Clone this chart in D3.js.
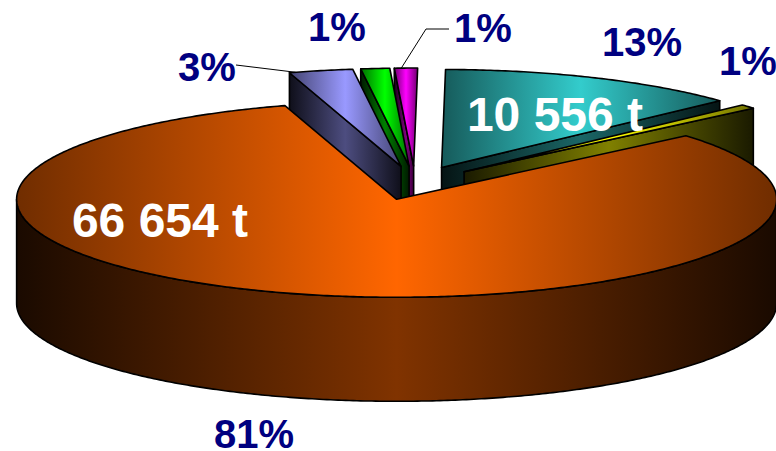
<!DOCTYPE html>
<html>
<head>
<meta charset="utf-8">
<script src="https://cdn.jsdelivr.net/npm/d3@7"></script>
<style>
  body { margin: 0; background: #fff; }
  svg { display: block; }
  text { font-family: "Liberation Sans", Arial, sans-serif; font-weight: bold; }
</style>
</head>
<body>
<div id="chart"></div>
<script>
// Tonnes per slice, clockwise from 12 o'clock. Only 10 556 and 66 654 are printed,
// the small ones.
const tonnes = [10556, 570, 66654, 2220, 1000, 800];
const baseColors = ["#33cccc", "#ffff00", "#ff6600", "#9999ff", "#00ff00", "#ff00ff"];
const tonneLabels = ["10 556 t", null, "66 654 t", null, null, null];

// Label anchors, same order as the slices
const percentX = [642, 748, 254, 207, 337, 483];
const percentY = [56, 75, 448, 81, 41, 42];
const tonneX = [555, null, 160];
const tonneY = [131, null, 237];
// Where a leader line leaves its label, and how far along the rim it lands
const leaderStart = { 3: [[236, 65]], 5: [[449, 29], [426, 29]] };
const leaderAlong = { 3: 0.1, 5: 0.3 };

const width = 776;
const height = 451;
const centerX = 415;
const centerY = 183;
const radiusX = 380;
const radiusY = 98;
const depth = 104;
const explode = 0.173;
const startAngle = (0.6 * Math.PI) / 180;

// unit circle -> screen
const xScale = d3.scaleLinear().domain([-1, 1]).range([centerX - radiusX, centerX + radiusX]);
const yScale = d3.scaleLinear().domain([-1, 1]).range([centerY - radiusY, centerY + radiusY]);

const slices = d3
  .pie()
  .sort(null)
  .startAngle(startAngle)
  .endAngle(startAngle + 2 * Math.PI)(tonnes);
const total = d3.sum(tonnes);

const svg = d3
  .select("#chart")
  .append("svg")
  .attr("width", width)
  .attr("height", height);
const defs = svg.append("defs");
const line = d3.line();

function project(slice, angle, r) {
  const mid = (slice.startAngle + slice.endAngle) / 2;
  const ux = explode * Math.sin(mid) + r * Math.sin(angle);
  const uy = -explode * Math.cos(mid) - r * Math.cos(angle);
  return [xScale(ux), yScale(uy)];
}

function arcPoints(slice, a0, a1) {
  const n = Math.max(2, Math.ceil((a1 - a0) / 0.01));
  return d3.range(n + 1).map(i => project(slice, a0 + ((a1 - a0) * i) / n, 1));
}

function gradient(id, x0, x1, mid, end) {
  const g = defs
    .append("linearGradient")
    .attr("id", id)
    .attr("gradientUnits", "userSpaceOnUse")
    .attr("x1", x0)
    .attr("x2", x1)
    .attr("y1", 0)
    .attr("y2", 0);
  g.append("stop").attr("offset", 0).attr("stop-color", end);
  g.append("stop").attr("offset", 0.5).attr("stop-color", mid);
  g.append("stop").attr("offset", 1).attr("stop-color", end);
  return "url(#" + id + ")";
}

function shade(color, k) {
  const c = d3.rgb(color);
  return d3.rgb(c.r * k, c.g * k, c.b * k).formatHex();
}

function down(points) {
  return points.map(p => [p[0], p[1] + depth]).reverse();
}

function drawPoly(points, fill) {
  svg
    .append("path")
    .attr("d", line(points) + "Z")
    .attr("fill", fill)
    .attr("stroke", "#000")
    .attr("stroke-width", 1.6)
    .attr("stroke-linejoin", "round");
}

function drawSlice(slice) {
  const color = baseColors[slice.index];
  const apex = project(slice, 0, 0);
  const rim = arcPoints(slice, slice.startAngle, slice.endAngle);
  const top = [apex].concat(rim);
  const xs = top.map(p => p[0]);
  const x0 = d3.min(xs);
  const x1 = d3.max(xs);

  const topFill = gradient("top" + slice.index, x0, x1, color, shade(color, 0.44));
  const wallFill = gradient("wall" + slice.index, x0, x1, shade(color, 0.5), shade(color, 0.1));

  // radial walls, only the ones facing the viewer
  if (Math.sin(slice.startAngle) < 0) {
    const edge = [apex, rim[0]];
    drawPoly(edge.concat(down(edge)), wallFill);
  }
  if (Math.sin(slice.endAngle) > 0 && slice.index !== slices.length - 1) {
    const edge = [apex, rim[rim.length - 1]];
    drawPoly(edge.concat(down(edge)), wallFill);
  }

  // outer wall, front half of the ellipse only
  const a0 = Math.max(slice.startAngle, Math.PI / 2);
  const a1 = Math.min(slice.endAngle, (3 * Math.PI) / 2);
  if (a1 > a0) {
    const edge = arcPoints(slice, a0, a1);
    drawPoly(edge.concat(down(edge)), wallFill);
  }

  drawPoly(top, topFill);
}

// back slices first, the big one last because it hides the lower part of the others
[5, 4, 3, 0, 1, 2].forEach(i => drawSlice(slices[i]));

// Leader lines
Object.keys(leaderStart).forEach(k => {
  const slice = slices[k];
  const angle = slice.startAngle + (slice.endAngle - slice.startAngle) * leaderAlong[k];
  svg
    .append("path")
    .attr("d", line(leaderStart[k].concat([project(slice, angle, 1)])))
    .attr("fill", "none")
    .attr("stroke", "#000")
    .attr("stroke-width", 1);
});

// Percent labels
svg
  .selectAll(".percent")
  .data(slices)
  .enter()
  .append("text")
  .attr("class", "percent")
  .attr("x", d => percentX[d.index])
  .attr("y", d => percentY[d.index])
  .attr("text-anchor", "middle")
  .attr("font-size", 40)
  .attr("fill", "#000080")
  .text(d => d3.format(".0%")(d.value / total));

// Tonne labels
svg
  .selectAll(".tonnes")
  .data(slices.filter(d => tonneLabels[d.index]))
  .enter()
  .append("text")
  .attr("class", "tonnes")
  .attr("x", d => tonneX[d.index])
  .attr("y", d => tonneY[d.index])
  .attr("text-anchor", "middle")
  .attr("font-size", 48)
  .attr("fill", "#fff")
  .text(d => tonneLabels[d.index]);
</script>
</body>
</html>
